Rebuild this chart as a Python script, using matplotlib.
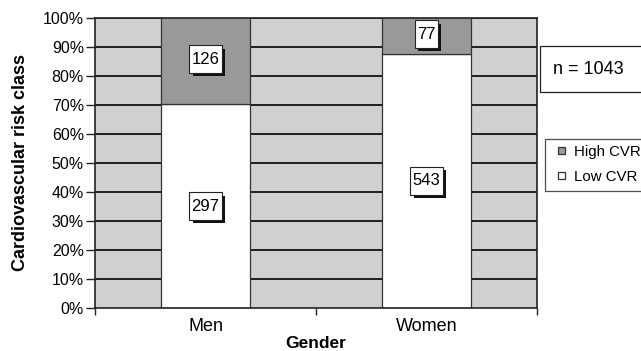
import matplotlib
matplotlib.use("Agg")
import matplotlib.pyplot as plt
import matplotlib.patheffects as pe
from matplotlib.patches import Rectangle
from matplotlib.path import Path
from matplotlib.legend_handler import HandlerPatch
import numpy as np

plt.rcParams['font.family'] = ['Liberation Sans', 'DejaVu Sans']

categories = ["Men", "Women"]
low_cvr = [297, 543]
high_cvr = [126, 77]
n_total = 1043
yticks = [0, 10, 20, 30, 40, 50, 60, 70, 80, 90, 100]

low = np.array(low_cvr, dtype=float)
high = np.array(high_cvr, dtype=float)
tot = low + high
low_pct = low / tot * 100
high_pct = high / tot * 100

fig = plt.figure(figsize=(6.41, 3.51), dpi=100)
ax = fig.add_axes([95 / 641, 1 - 308 / 351, 442 / 641, 290.5 / 351])
ax.set_facecolor("#d0d0d0")

x = np.arange(len(categories))
width = 0.4

for y in yticks[1:]:
    ax.axhline(y, color="#111111", lw=1.3, zorder=1)

b_low = ax.bar(x, low_pct, width, color="white", edgecolor="#333333", lw=0.9,
               zorder=2, label="Low CVR")
b_high = ax.bar(x, high_pct, width, bottom=low_pct, color="#999999",
                edgecolor="#333333", lw=0.9, zorder=2, label="High CVR")


def label_box(x0, y0, w, h, mutation_size):
    # narrow horizontal padding, taller vertical padding
    px = 0.13 * mutation_size
    py = 0.38 * mutation_size
    xa, ya, xb, yb = x0 - px, y0 - py, x0 + w + px, y0 + h + py
    return Path([(xa, ya), (xb, ya), (xb, yb), (xa, yb), (xa, ya)],
                [Path.MOVETO, Path.LINETO, Path.LINETO, Path.LINETO, Path.CLOSEPOLY])


def boxed(xc, yc, s):
    t = ax.text(xc, yc, s, ha="center", va="center", fontsize=12, zorder=5,
                bbox=dict(boxstyle=label_box, fc="white", ec="#222222", lw=0.8))
    t.get_bbox_patch().set_path_effects([
        pe.SimplePatchShadow(offset=(2.4, -2.4), shadow_rgbFace="#111111", alpha=1.0),
        pe.Normal()])


for i in range(len(categories)):
    boxed(x[i], low_pct[i] / 2, str(low_cvr[i]))
    boxed(x[i], low_pct[i] + high_pct[i] / 2 + 0.5, str(high_cvr[i]))

ax.set_xlim(-0.5, len(categories) - 0.5)
ax.set_ylim(0, 100)
ax.set_yticks(yticks)
ax.set_yticklabels([f"{v}%" for v in yticks], fontsize=11.5)
ax.set_xticks(x)
ax.set_xticklabels(categories, fontsize=13)
ax.tick_params(axis="x", length=0, pad=7)
ax.tick_params(axis="y", length=6.5, width=1, color="#222222", pad=1.5)
ax.set_xticks(np.arange(-0.5, len(categories), 1.0), minor=True)
ax.tick_params(axis="x", which="minor", length=5, width=1, color="#222222")

for s in ax.spines.values():
    s.set_color("#222222")
    s.set_linewidth(1.2)

ax.set_ylabel("Cardiovascular risk class", fontsize=13, fontweight="bold", va="center")
ax.yaxis.set_label_coords((20 - 95) / 442, 0.5)
ax.set_xlabel("Gender", fontsize=12.5, fontweight="bold", va="center")
ax.xaxis.set_label_coords(0.5, (308 - 344) / 290.5)

# sample size box
fig.patches.append(Rectangle((540 / 641, 1 - 92 / 351), 110 / 641, 46 / 351,
                             transform=fig.transFigure, fc="white", ec="#222222",
                             lw=0.9, zorder=3))
fig.text(553 / 641, 1 - 69 / 351, f"n = {n_total}", fontsize=13, va="center", ha="left")


def small_square(legend, orig_handle, xdescent, ydescent, width, height, fontsize):
    size = 5.0
    return Rectangle((-xdescent + width - size, -ydescent + (height - size) / 2),
                     size, size)


leg = fig.legend(handles=[b_high.patches[0], b_low.patches[0]],
                 labels=["High CVR", "Low CVR"],
                 loc="upper left", bbox_to_anchor=(545 / 641, 1 - 138.5 / 351),
                 fontsize=10.8, frameon=True, fancybox=False, edgecolor="#222222",
                 handlelength=0.85, handleheight=0.5, handletextpad=0.6,
                 borderpad=0.45, labelspacing=0.72, borderaxespad=0,
                 handler_map={Rectangle: HandlerPatch(patch_func=small_square)})
leg.get_frame().set_linewidth(0.9)

fig.savefig("out.png", dpi=100)
